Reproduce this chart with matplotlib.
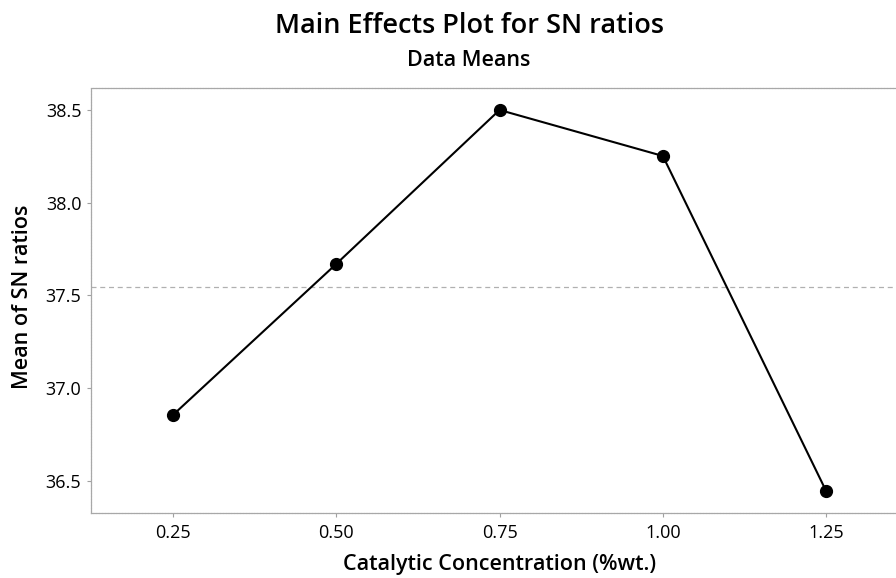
import matplotlib
matplotlib.use('Agg')
import matplotlib.pyplot as plt
import numpy as np

# data
conc = [0.25, 0.50, 0.75, 1.00, 1.25]
sn_mean = [36.856, 37.670, 38.500, 38.252, 36.446]
tick_labels = ['0.25', '0.50', '0.75', '1.00', '1.25']
y_ticks = [36.5, 37.0, 37.5, 38.0, 38.5]
y_tick_labels = ['36.5', '37.0', '37.5', '38.0', '38.5']

plt.rcParams['font.family'] = ['Open Sans', 'DejaVu Sans']

fig = plt.figure(figsize=(8.96, 5.78), dpi=100)
ax = fig.add_axes([0.1016, 0.1125, 0.8984, 0.7353])

grand_mean = np.mean(sn_mean)
ax.axhline(grand_mean, color='#b0b0b0', lw=0.9, ls=(0, (4, 3)), zorder=1)
ax.plot(conc, sn_mean, color='black', lw=1.5, marker='o', markersize=8.5, zorder=3)

ax.set_xlim(0.1245, 1.357)
ax.set_ylim(36.3275, 38.6186)
ax.set_xticks(conc)
ax.set_xticklabels(tick_labels)
ax.set_yticks(y_ticks)
ax.set_yticklabels(y_tick_labels)
ax.tick_params(axis='both', direction='out', length=3, width=0.8, color='#a0a0a0',
               labelsize=13, pad=4)
ax.tick_params(axis='x', pad=5)

for side in ['left', 'bottom', 'top']:
    ax.spines[side].set_color('#a8a8a8')
    ax.spines[side].set_linewidth(0.9)
    ax.spines[side].set_linestyle((0, (1.5, 0.8)))
ax.spines['right'].set_visible(False)

# axis titles, centred on the (partly cropped) plot frame
fig.text(500 / 896, 1 - 570 / 578, 'Catalytic Concentration (%wt.)', ha='center',
         va='baseline', fontsize=15.5, fontweight='semibold')
fig.text(23 / 896, 1 - 297 / 578, 'Mean of SN ratios', ha='center', va='center',
         rotation=90, fontsize=15.5, fontweight='semibold')

fig.text(469 / 896, 1 - 33 / 578, 'Main Effects Plot for SN ratios', ha='center',
         va='baseline', fontsize=19.5, fontweight='semibold')
fig.text(469 / 896, 1 - 66 / 578, 'Data Means', ha='center', va='baseline',
         fontsize=15.5, fontweight='semibold')

plt.savefig('out.png', dpi=100)
